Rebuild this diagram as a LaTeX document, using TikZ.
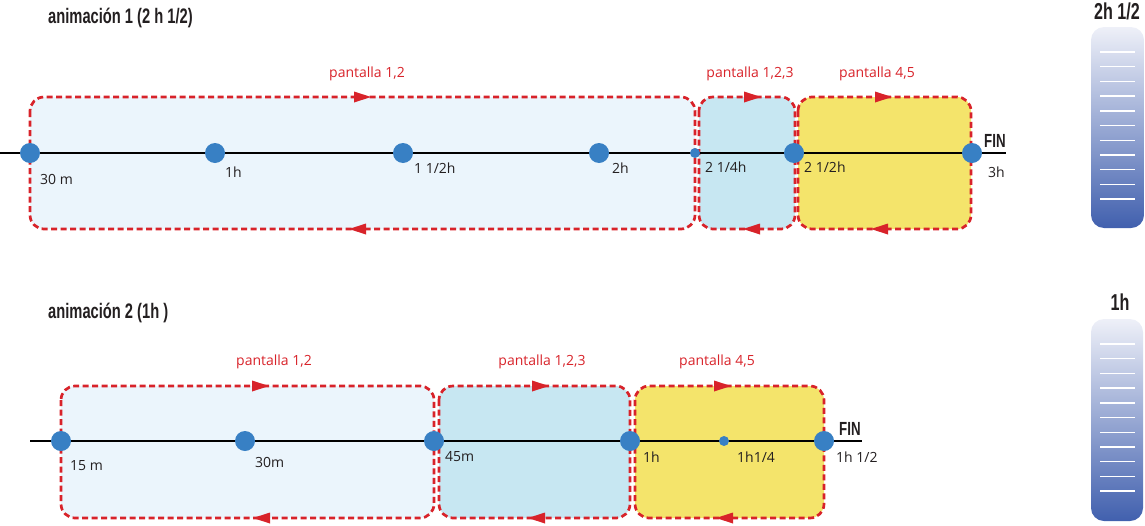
\documentclass[tikz,border=0pt]{standalone}
\usepackage{fontspec}
\setmainfont{Open Sans}
\newfontfamily\titfont[FakeStretch=0.7]{Liberation Sans}
\usetikzlibrary{arrows.meta}

\definecolor{rojo}{HTML}{D8232A}
\definecolor{azulpunto}{HTML}{3880C4}
\definecolor{celeste}{HTML}{EBF5FC}
\definecolor{celestedos}{HTML}{C7E7F2}
\definecolor{amarillo}{HTML}{F4E46B}
\definecolor{gristexto}{HTML}{231F20}
\definecolor{tubotop}{HTML}{EEF0F8}
\definecolor{tubobot}{HTML}{4160AE}

\tikzset{
  caja/.style={draw=rojo, line width=2.7pt, dash pattern=on 6pt off 3.5pt, rounded corners=14pt},
  eje/.style={line width=1.1pt, black},
  punto/.style={circle, fill=azulpunto, inner sep=0pt, minimum size=20pt},
  puntito/.style={circle, fill=azulpunto, inner sep=0pt, minimum size=10pt},
  etiq/.style={anchor=west, inner sep=0pt, text=gristexto, font=\fontsize{14}{14}\selectfont},
  pant/.style={inner sep=0pt, text=rojo, font=\fontsize{14}{14}\selectfont},
  titulo/.style={anchor=west, inner sep=0pt, text=gristexto, font=\titfont\bfseries\fontsize{21}{21}\selectfont},
  fin/.style={anchor=west, inner sep=0pt, text=gristexto, font=\titfont\bfseries\fontsize{19}{19}\selectfont},
  tubotit/.style={inner sep=0pt, text=gristexto, font=\titfont\bfseries\fontsize{23}{23}\selectfont},
  tubo/.style={rounded corners=13pt, top color=tubotop, bottom color=tubobot},
  flechad/.pic={\fill[rojo] (-8,-5.5) -- (9,0) -- (-8,5.5) -- cycle;},
  flechai/.pic={\fill[rojo] (8,-5.5) -- (-9,0) -- (8,5.5) -- cycle;}
}

\begin{document}
\begin{tikzpicture}[x=1pt, y=-1pt]
  \useasboundingbox (0,0) rectangle (1145,525);

  % animacion 1
  \node[titulo] (tit1) at (48,18) {animación 1 (2 h 1/2)};
  \draw[caja, fill=celeste] (30,97) rectangle (695,229);
  \draw[caja, fill=celestedos] (699,97) rectangle (795,229);
  \draw[caja, fill=amarillo] (798,97) rectangle (971,229);
  \pic at (362,97) {flechad};  \pic at (358,229) {flechai};
  \pic at (752,97) {flechad};  \pic at (752,229) {flechai};
  \pic at (883,97) {flechad};  \pic at (880,229) {flechai};
  \node[pant] (p1a) at (367,74) {pantalla 1,2};
  \node[pant] (p1b) at (750,74) {pantalla 1,2,3};
  \node[pant] (p1c) at (877,74) {pantalla 4,5};

  \coordinate (ini1) at (0,153);
  \coordinate (fin1) at (1006,153);
  \draw[eje] (ini1) -- (fin1);
  \node[punto] (a30) at (30,153) {};
  \node[punto] (a60) at (215,153) {};
  \node[punto] (a90) at (403,153) {};
  \node[punto] (a120) at (599,153) {};
  \node[puntito] (a135) at (695,153) {};
  \node[punto] (a150) at (794,153) {};
  \node[punto] (a180) at (972,153) {};
  \node[etiq] at (40,179) {30 m};
  \node[etiq] at (225,172) {1h};
  \node[etiq] at (414,168) {1 1/2h};
  \node[etiq] at (612,168) {2h};
  \node[etiq] at (705,167) {2 1/4h};
  \node[etiq] at (804,167) {2 1/2h};
  \node[etiq] at (988,172) {3h};
  \node[fin] at (984,141) {FIN};

  % animacion 2
  \node[titulo] (tit2) at (48,313) {animación 2 (1h )};
  \draw[caja, fill=celeste] (61,386) rectangle (434,518);
  \draw[caja, fill=celestedos] (439,386) rectangle (630,518);
  \draw[caja, fill=amarillo] (635,386) rectangle (824,518);
  \pic at (260,386) {flechad};  \pic at (262,518) {flechai};
  \pic at (540,386) {flechad};  \pic at (537,518) {flechai};
  \pic at (722,386) {flechad};  \pic at (725,518) {flechai};
  \node[pant] (p2a) at (274,362) {pantalla 1,2};
  \node[pant] (p2b) at (542,362) {pantalla 1,2,3};
  \node[pant] (p2c) at (717,362) {pantalla 4,5};

  \coordinate (ini2) at (30,441);
  \coordinate (fin2) at (862,441);
  \draw[eje] (ini2) -- (fin2);
  \node[punto] (b15) at (61,441) {};
  \node[punto] (b30) at (245,441) {};
  \node[punto] (b45) at (434,441) {};
  \node[punto] (b60) at (630,441) {};
  \node[puntito] (b75) at (724,441) {};
  \node[punto] (b90) at (824,441) {};
  \node[etiq] at (70,466) {15 m};
  \node[etiq] at (255,462) {30m};
  \node[etiq] at (445,457) {45m};
  \node[etiq] at (643,457) {1h};
  \node[etiq] at (737,457) {1h1/4};
  \node[etiq] at (836,457) {1h 1/2};
  \node[fin] at (839,429) {FIN};

  % tubos
  \node[tubotit] (t1) at (1117,11) {2h 1/2};
  \shade[tubo] (1091,27) rectangle (1144,228);
  \foreach \i in {0,...,10}
    \draw[white, line width=1.4pt] (1100,52+14.7*\i) -- (1135,52+14.7*\i);
  \node[tubotit] (t2) at (1120,302) {1h};
  \shade[tubo] (1091,319) rectangle (1143,521);
  \foreach \i in {0,...,10}
    \draw[white, line width=1.4pt] (1100,344+14.7*\i) -- (1135,344+14.7*\i);
\end{tikzpicture}
\end{document}
